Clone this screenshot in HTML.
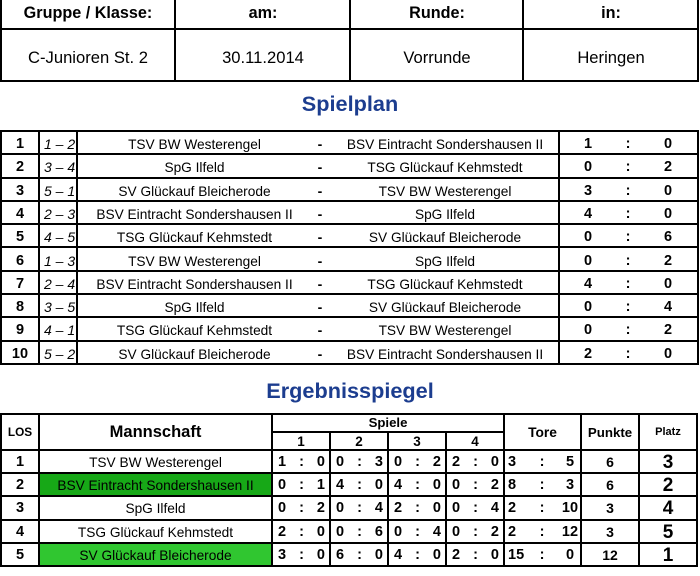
<!DOCTYPE html>
<html>
<head>
<meta charset="utf-8">
<style>
html,body{margin:0;padding:0;}
body{width:700px;height:576px;overflow:hidden;background:#fff;position:relative;font-family:"Liberation Sans",Arial,sans-serif;color:#000;}
.h{position:absolute;height:2px;background:#000;}
.v{position:absolute;width:2px;background:#000;}
.t{position:absolute;text-align:center;white-space:nowrap;}
.r{position:absolute;left:0;width:700px;height:23.3px;line-height:23.3px;}
.r > div{position:absolute;top:0;height:23.3px;white-space:nowrap;text-align:center;}
.n{left:2px;width:36px;font-weight:bold;font-size:14.5px;}
.p{left:44px;text-align:left !important;font-style:italic;font-size:14px;}
.hm{left:78px;width:233px;font-size:13.7px;}
.ds{left:310px;width:20px;font-size:14px;font-weight:bold;}
.aw{left:331px;width:228px;font-size:13.7px;}
.s1,.s2,.s3{width:20px;font-weight:bold;font-size:14.5px;}
.s1{left:578px;}.s2{left:618px;}.s3{left:658px;}
.e{position:absolute;left:0;width:700px;height:23.2px;line-height:23.2px;}
.e > div{position:absolute;top:0;height:23.2px;white-space:nowrap;text-align:center;}
.tm{left:40px;width:231px;font-size:13.7px;}
.g{width:47px;padding:0 5px;display:flex;justify-content:space-between;font-weight:bold;font-size:14.5px;}
.g1{left:273px;}.g2{left:331px;}.g3{left:389px;}.g4{left:447px;}
.ta{left:508px;text-align:left !important;font-weight:bold;font-size:14.5px;}
.tc{left:532px;width:20px;font-weight:bold;font-size:14.5px;}
.tb{left:555px;width:30px;font-weight:bold;font-size:14.5px;}
.pk{left:582px;width:56px;font-weight:bold;font-size:14px;}
.pl{left:640px;width:56px;font-weight:bold;font-size:19px;}
.title{position:absolute;left:0;width:700px;text-align:center;font-weight:bold;font-size:21.7px;line-height:21.7px;color:#1c3d8f;}
</style>
</head>
<body>

<!-- Header table -->
<div class="v" style="left:0;top:0;height:82px"></div>
<div class="v" style="left:174px;top:0;height:82px"></div>
<div class="v" style="left:349px;top:0;height:82px"></div>
<div class="v" style="left:522px;top:0;height:82px"></div>
<div class="v" style="left:697px;top:0;height:82px"></div>
<div class="h" style="left:0;top:28px;width:699px"></div>
<div class="h" style="left:0;top:80px;width:699px"></div>

<div class="t" style="left:1px;width:174px;top:-1px;line-height:28px;font-weight:bold;font-size:16.2px">Gruppe / Klasse:</div>
<div class="t" style="left:176px;width:174px;top:-1px;line-height:28px;font-weight:bold;font-size:16.2px">am:</div>
<div class="t" style="left:351px;width:172px;top:-1px;line-height:28px;font-weight:bold;font-size:16.2px">Runde:</div>
<div class="t" style="left:524px;width:174px;top:-1px;line-height:28px;font-weight:bold;font-size:16.2px">in:</div>

<div class="t" style="left:1px;width:174px;top:33px;line-height:50px;font-size:16.6px">C-Junioren St. 2</div>
<div class="t" style="left:176px;width:174px;top:33px;line-height:50px;font-size:16.6px">30.11.2014</div>
<div class="t" style="left:351px;width:172px;top:33px;line-height:50px;font-size:16.6px">Vorrunde</div>
<div class="t" style="left:524px;width:174px;top:33px;line-height:50px;font-size:16.6px">Heringen</div>

<!-- Spielplan -->
<div class="title" style="top:93px">Spielplan</div>

<div class="h" style="left:0;top:130px;width:699px"></div>
<div class="h" style="left:0;top:153px;width:699px"></div>
<div class="h" style="left:0;top:177px;width:699px"></div>
<div class="h" style="left:0;top:200px;width:699px"></div>
<div class="h" style="left:0;top:223px;width:699px"></div>
<div class="h" style="left:0;top:246px;width:699px"></div>
<div class="h" style="left:0;top:270px;width:699px"></div>
<div class="h" style="left:0;top:293px;width:699px"></div>
<div class="h" style="left:0;top:316px;width:699px"></div>
<div class="h" style="left:0;top:340px;width:699px"></div>
<div class="h" style="left:0;top:363px;width:699px"></div>
<div class="v" style="left:0;top:130px;height:235px"></div>
<div class="v" style="left:38px;top:130px;height:235px"></div>
<div class="v" style="left:76px;top:130px;height:235px"></div>
<div class="v" style="left:558px;top:130px;height:235px"></div>
<div class="v" style="left:697px;top:130px;height:235px"></div>

<div class="r" style="top:133px"><div class="n">1</div><div class="p">1 – 2</div><div class="hm">TSV BW Westerengel</div><div class="ds">-</div><div class="aw">BSV Eintracht Sondershausen II</div><div class="s1">1</div><div class="s2">:</div><div class="s3">0</div></div>
<div class="r" style="top:156.3px"><div class="n">2</div><div class="p">3 – 4</div><div class="hm">SpG Ilfeld</div><div class="ds">-</div><div class="aw">TSG Glückauf Kehmstedt</div><div class="s1">0</div><div class="s2">:</div><div class="s3">2</div></div>
<div class="r" style="top:179.6px"><div class="n">3</div><div class="p">5 – 1</div><div class="hm">SV Glückauf Bleicherode</div><div class="ds">-</div><div class="aw">TSV BW Westerengel</div><div class="s1">3</div><div class="s2">:</div><div class="s3">0</div></div>
<div class="r" style="top:202.9px"><div class="n">4</div><div class="p">2 – 3</div><div class="hm">BSV Eintracht Sondershausen II</div><div class="ds">-</div><div class="aw">SpG Ilfeld</div><div class="s1">4</div><div class="s2">:</div><div class="s3">0</div></div>
<div class="r" style="top:226.2px"><div class="n">5</div><div class="p">4 – 5</div><div class="hm">TSG Glückauf Kehmstedt</div><div class="ds">-</div><div class="aw">SV Glückauf Bleicherode</div><div class="s1">0</div><div class="s2">:</div><div class="s3">6</div></div>
<div class="r" style="top:249.5px"><div class="n">6</div><div class="p">1 – 3</div><div class="hm">TSV BW Westerengel</div><div class="ds">-</div><div class="aw">SpG Ilfeld</div><div class="s1">0</div><div class="s2">:</div><div class="s3">2</div></div>
<div class="r" style="top:272.8px"><div class="n">7</div><div class="p">2 – 4</div><div class="hm">BSV Eintracht Sondershausen II</div><div class="ds">-</div><div class="aw">TSG Glückauf Kehmstedt</div><div class="s1">4</div><div class="s2">:</div><div class="s3">0</div></div>
<div class="r" style="top:296.1px"><div class="n">8</div><div class="p">3 – 5</div><div class="hm">SpG Ilfeld</div><div class="ds">-</div><div class="aw">SV Glückauf Bleicherode</div><div class="s1">0</div><div class="s2">:</div><div class="s3">4</div></div>
<div class="r" style="top:319.4px"><div class="n">9</div><div class="p">4 – 1</div><div class="hm">TSG Glückauf Kehmstedt</div><div class="ds">-</div><div class="aw">TSV BW Westerengel</div><div class="s1">0</div><div class="s2">:</div><div class="s3">2</div></div>
<div class="r" style="top:342.7px"><div class="n">10</div><div class="p">5 – 2</div><div class="hm">SV Glückauf Bleicherode</div><div class="ds">-</div><div class="aw">BSV Eintracht Sondershausen II</div><div class="s1">2</div><div class="s2">:</div><div class="s3">0</div></div>

<!-- Ergebnisspiegel -->
<div class="title" style="top:380px">Ergebnisspiegel</div>

<!-- green fills -->
<div style="position:absolute;left:40px;top:474px;width:231px;height:21px;background:#17a817"></div>
<div style="position:absolute;left:40px;top:544px;width:231px;height:21px;background:#30c630"></div>

<div class="h" style="left:0;top:413px;width:698px"></div>
<div class="h" style="left:272px;top:431px;width:232px"></div>
<div class="h" style="left:0;top:449px;width:698px"></div>
<div class="h" style="left:0;top:472px;width:698px"></div>
<div class="h" style="left:0;top:495px;width:698px"></div>
<div class="h" style="left:0;top:519px;width:698px"></div>
<div class="h" style="left:0;top:542px;width:698px"></div>
<div class="h" style="left:0;top:565px;width:698px"></div>

<div class="v" style="left:0;top:413px;height:154px"></div>
<div class="v" style="left:38px;top:413px;height:154px"></div>
<div class="v" style="left:271px;top:413px;height:154px"></div>
<div class="v" style="left:329px;top:431px;height:136px"></div>
<div class="v" style="left:387px;top:431px;height:136px"></div>
<div class="v" style="left:445px;top:431px;height:136px"></div>
<div class="v" style="left:503px;top:413px;height:154px"></div>
<div class="v" style="left:580px;top:413px;height:154px"></div>
<div class="v" style="left:638px;top:413px;height:154px"></div>
<div class="v" style="left:696px;top:413px;height:154px"></div>

<!-- header texts -->
<div class="t" style="left:2px;width:36px;top:415px;line-height:34px;font-weight:bold;font-size:11.8px">LOS</div>
<div class="t" style="left:40px;width:231px;top:415px;line-height:34px;font-weight:bold;font-size:16.5px">Mannschaft</div>
<div class="t" style="left:273px;width:230px;top:414px;line-height:17px;font-weight:bold;font-size:13.2px">Spiele</div>
<div class="t" style="left:273px;width:56px;top:433px;line-height:17px;font-weight:bold;font-size:13.5px">1</div>
<div class="t" style="left:331px;width:56px;top:433px;line-height:17px;font-weight:bold;font-size:13.5px">2</div>
<div class="t" style="left:389px;width:56px;top:433px;line-height:17px;font-weight:bold;font-size:13.5px">3</div>
<div class="t" style="left:447px;width:56px;top:433px;line-height:17px;font-weight:bold;font-size:13.5px">4</div>
<div class="t" style="left:505px;width:75px;top:416px;line-height:34px;font-weight:bold;font-size:13.8px">Tore</div>
<div class="t" style="left:582px;width:56px;top:416px;line-height:34px;font-weight:bold;font-size:13.3px">Punkte</div>
<div class="t" style="left:640px;width:56px;top:415px;line-height:34px;font-weight:bold;font-size:11px">Platz</div>

<!-- data rows -->
<div class="e" style="top:451px"><div class="n">1</div><div class="tm">TSV BW Westerengel</div>
<div class="g g1"><span>1</span><span>:</span><span>0</span></div><div class="g g2"><span>0</span><span>:</span><span>3</span></div><div class="g g3"><span>0</span><span>:</span><span>2</span></div><div class="g g4"><span>2</span><span>:</span><span>0</span></div>
<div class="ta">3</div><div class="tc">:</div><div class="tb">5</div><div class="pk">6</div><div class="pl">3</div></div>

<div class="e" style="top:474.2px"><div class="n">2</div><div class="tm">BSV Eintracht Sondershausen II</div>
<div class="g g1"><span>0</span><span>:</span><span>1</span></div><div class="g g2"><span>4</span><span>:</span><span>0</span></div><div class="g g3"><span>4</span><span>:</span><span>0</span></div><div class="g g4"><span>0</span><span>:</span><span>2</span></div>
<div class="ta">8</div><div class="tc">:</div><div class="tb">3</div><div class="pk">6</div><div class="pl">2</div></div>

<div class="e" style="top:497.4px"><div class="n">3</div><div class="tm">SpG Ilfeld</div>
<div class="g g1"><span>0</span><span>:</span><span>2</span></div><div class="g g2"><span>0</span><span>:</span><span>4</span></div><div class="g g3"><span>2</span><span>:</span><span>0</span></div><div class="g g4"><span>0</span><span>:</span><span>4</span></div>
<div class="ta">2</div><div class="tc">:</div><div class="tb">10</div><div class="pk">3</div><div class="pl">4</div></div>

<div class="e" style="top:520.6px"><div class="n">4</div><div class="tm">TSG Glückauf Kehmstedt</div>
<div class="g g1"><span>2</span><span>:</span><span>0</span></div><div class="g g2"><span>0</span><span>:</span><span>6</span></div><div class="g g3"><span>0</span><span>:</span><span>4</span></div><div class="g g4"><span>0</span><span>:</span><span>2</span></div>
<div class="ta">2</div><div class="tc">:</div><div class="tb">12</div><div class="pk">3</div><div class="pl">5</div></div>

<div class="e" style="top:543.8px"><div class="n">5</div><div class="tm">SV Glückauf Bleicherode</div>
<div class="g g1"><span>3</span><span>:</span><span>0</span></div><div class="g g2"><span>6</span><span>:</span><span>0</span></div><div class="g g3"><span>4</span><span>:</span><span>0</span></div><div class="g g4"><span>2</span><span>:</span><span>0</span></div>
<div class="ta">15</div><div class="tc">:</div><div class="tb">0</div><div class="pk">12</div><div class="pl">1</div></div>

</body>
</html>
